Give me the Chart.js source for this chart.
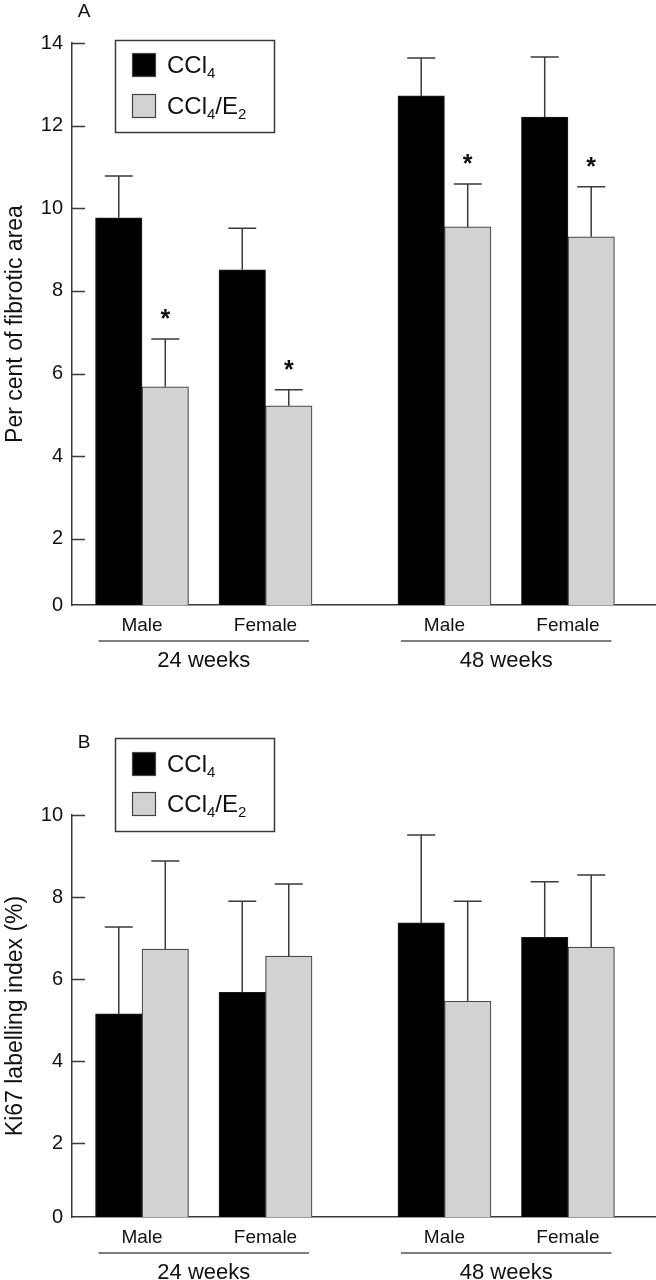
<!DOCTYPE html>
<html>
<head>
<meta charset="utf-8">
<script src="https://cdn.jsdelivr.net/npm/chart.js@4/dist/chart.umd.min.js"></script>
<style>
  body { margin: 0; background: #fff; }
  canvas { display: block; }
</style>
</head>
<body>
<canvas id="chartA" width="656" height="690"></canvas>
<canvas id="chartB" width="656" height="590"></canvas>
<script>
'use strict'

const categories = ['Male', 'Female', 'Male', 'Female']
const groups = ['24 weeks', '48 weeks']
const groupMembers = [[0, 1], [2, 3]]
const seriesLabels = ['CCl₄', 'CCl₄/E₂']

// A - per cent of fibrotic area
const fibrosisCCl4 = [9.77, 8.51, 12.72, 12.21]
const fibrosisCCl4Err = [1.01, 1.01, 0.92, 1.45]
const fibrosisE2 = [5.68, 5.22, 9.55, 9.31]
const fibrosisE2Err = [1.16, 0.39, 1.04, 1.21]
const fibrosisE2Stars = [true, true, true, true]
const fibrosisTicks = [0, 2, 4, 6, 8, 10, 12, 14]

// B - Ki67 labelling index
const ki67CCl4 = [5.15, 5.68, 7.37, 7.02]
const ki67CCl4Err = [2.12, 2.22, 2.14, 1.35]
const ki67E2 = [6.73, 6.56, 5.46, 6.78]
const ki67E2Err = [2.15, 1.76, 2.44, 1.76]
const ki67E2Stars = [false, false, false, false]
const ki67Ticks = [0, 2, 4, 6, 8, 10]

const FONT = '"Liberation Sans", Arial, sans-serif'
const INK = '#111'
const LINE = '#3a3a3a'
const GROUP_GAP = 0.449   // extra space between the 24 and 48 week groups
const X_MIN = -0.567
const X_MAX = 4.162

const xPositions = categories.map((c, i) => i + (i >= 2 ? GROUP_GAP : 0))

function drawLabel(ctx, text, x, y, size) {
  // digits written as unicode subscripts are drawn smaller and lower
  const subs = '₀₁₂₃₄₅₆₇₈₉'
  let cx = x
  for (const ch of text) {
    const k = subs.indexOf(ch)
    if (k >= 0) {
      ctx.font = Math.round(size * 0.62) + 'px ' + FONT
      ctx.fillText(String(k), cx, y + size * 0.22)
      cx += ctx.measureText(String(k)).width
    } else {
      ctx.font = size + 'px ' + FONT
      ctx.fillText(ch, cx, y)
      cx += ctx.measureText(ch).width
    }
  }
}

const figurePlugin = {
  id: 'figure',
  afterDatasetsDraw(chart) {
    const { ctx, scales: { y } } = chart
    ctx.save()
    chart.data.datasets.forEach((ds, di) => {
      const meta = chart.getDatasetMeta(di)
      meta.data.forEach((bar, i) => {
        const top = y.getPixelForValue(ds.data[i].y + ds.errors[i])
        ctx.strokeStyle = LINE
        ctx.lineWidth = 1.5
        ctx.beginPath()
        ctx.moveTo(bar.x, bar.y)
        ctx.lineTo(bar.x, top)
        ctx.moveTo(bar.x - 14, top)
        ctx.lineTo(bar.x + 14, top)
        ctx.stroke()
        if (ds.stars && ds.stars[i]) {
          ctx.fillStyle = INK
          ctx.font = 'bold 25px ' + FONT
          ctx.textAlign = 'center'
          ctx.textBaseline = 'alphabetic'
          ctx.fillText('*', bar.x, top - 12)
        }
      })
    })
    ctx.restore()
  },
  afterDraw(chart, args, opts) {
    const { ctx, chartArea, scales: { x, y } } = chart
    ctx.save()

    // inward tick marks
    ctx.strokeStyle = LINE
    ctx.lineWidth = 1.5
    ctx.beginPath()
    y.ticks.forEach((t, i) => {
      if (i === 0) return
      const py = Math.round(y.getPixelForValue(t.value)) + 0.5
      ctx.moveTo(chartArea.left, py)
      ctx.lineTo(chartArea.left + 13, py)
    })
    ctx.stroke()

    // group labels with underline
    groups.forEach((g, gi) => {
      const px = groupMembers[gi].map(i => x.getPixelForValue(xPositions[i]))
      const x0 = Math.min(...px) - 43.5
      const x1 = Math.max(...px) + 43.5
      ctx.strokeStyle = '#555'
      ctx.lineWidth = 1.5
      ctx.beginPath()
      ctx.moveTo(x0, chartArea.bottom + opts.lineOffset)
      ctx.lineTo(x1, chartArea.bottom + opts.lineOffset)
      ctx.stroke()
      ctx.fillStyle = INK
      ctx.font = '22px ' + FONT
      ctx.textAlign = 'center'
      ctx.textBaseline = 'middle'
      ctx.fillText(g, (x0 + x1) / 2, chartArea.bottom + opts.groupOffset)
    })

    // panel letter
    ctx.fillStyle = INK
    ctx.font = '19px ' + FONT
    ctx.textAlign = 'center'
    ctx.textBaseline = 'middle'
    ctx.fillText(opts.letter, 84, opts.letterY)

    // legend box
    const b = opts.legendBox
    ctx.strokeStyle = LINE
    ctx.lineWidth = 1.5
    ctx.strokeRect(b.x + 0.5, b.y + 0.5, b.w, b.h)
    chart.data.datasets.forEach((ds, di) => {
      const sy = b.y + b.rows[di]
      ctx.fillStyle = ds.backgroundColor
      ctx.fillRect(b.x + 17, sy, 24, 24)
      ctx.strokeStyle = '#444'
      ctx.lineWidth = 1.2
      ctx.strokeRect(b.x + 17.5, sy + 0.5, 23, 23)
      ctx.fillStyle = INK
      ctx.textAlign = 'left'
      ctx.textBaseline = 'alphabetic'
      drawLabel(ctx, ds.label, b.x + 52, sy + 12 + 8, 24)
    })

    ctx.restore()
  }
}

function toPoints(values) {
  return values.map((v, i) => ({ x: xPositions[i], y: v }))
}

function drawPanel(id, p) {
  const ctx = document.getElementById(id)
  // eslint-disable-next-line no-unused-vars
  const chart = new Chart(ctx, {
    type: 'bar',
    data: {
      datasets: [{
        label: seriesLabels[0],
        data: toPoints(p.black),
        errors: p.blackErr,
        backgroundColor: '#000000',
        borderColor: '#1a1a1a'
      }, {
        label: seriesLabels[1],
        data: toPoints(p.grey),
        errors: p.greyErr,
        stars: p.greyStars,
        backgroundColor: '#d2d2d2',
        borderColor: '#4a4a4a'
      }]
    },
    options: {
      responsive: false,
      animation: false,
      layout: { padding: { top: p.top, left: 0, right: 0, bottom: 0 } },
      datasets: {
        bar: { barThickness: 46.5, base: p.floor, borderWidth: 1.2, borderSkipped: 'bottom' }
      },
      plugins: {
        legend: { display: false },
        tooltip: { enabled: false },
        figure: {
          letter: p.letter,
          letterY: p.letterY,
          legendBox: p.legendBox,
          lineOffset: 36,
          groupOffset: 56
        }
      },
      scales: {
        x: {
          type: 'linear',
          offset: false,
          min: X_MIN,
          max: X_MAX,
          grid: { display: false, drawTicks: false },
          border: { color: LINE, width: 1.5 },
          afterBuildTicks: s => { s.ticks = xPositions.map(v => ({ value: v })) },
          afterFit: s => { s.height = p.xHeight },
          ticks: {
            padding: 9,
            autoSkip: false,
            maxRotation: 0,
            color: INK,
            font: { family: FONT, size: 19 },
            callback: (v, i) => categories[i]
          }
        },
        y: {
          type: 'linear',
          min: p.floor,
          max: p.ticks[p.ticks.length - 1],
          grid: { display: false, drawTicks: false },
          border: { color: LINE, width: 1.5 },
          afterBuildTicks: s => { s.ticks = p.ticks.map(v => ({ value: v === 0 ? p.floor : v })) },
          afterFit: s => { s.width = 72 },
          ticks: {
            padding: 9,
            color: INK,
            font: { family: FONT, size: 20 },
            callback: v => (v === p.floor ? '0' : v)
          },
          title: {
            display: true,
            text: p.title,
            color: INK,
            padding: { top: 2, bottom: 0 },
            font: { family: FONT, size: 23 }
          }
        }
      }
    },
    plugins: [figurePlugin]
  })
}

drawPanel('chartA', {
  letter: 'A',
  letterY: 12,
  title: 'Per cent of fibrotic area',
  black: fibrosisCCl4,
  blackErr: fibrosisCCl4Err,
  grey: fibrosisE2,
  greyErr: fibrosisE2Err,
  greyStars: fibrosisE2Stars,
  ticks: fibrosisTicks,
  floor: 0.4,
  top: 43,
  xHeight: 85,
  legendBox: { x: 115, y: 40, w: 159, h: 92, rows: [13, 54] }
})

drawPanel('chartB', {
  letter: 'B',
  letterY: 53,
  title: 'Ki67 labelling index (%)',
  black: ki67CCl4,
  blackErr: ki67CCl4Err,
  grey: ki67E2,
  greyErr: ki67E2Err,
  greyStars: ki67E2Stars,
  ticks: ki67Ticks,
  floor: 0.2,
  top: 125,
  xHeight: 63,
  legendBox: { x: 115, y: 48, w: 159, h: 93, rows: [14, 54] }
})
</script>
</body>
</html>
